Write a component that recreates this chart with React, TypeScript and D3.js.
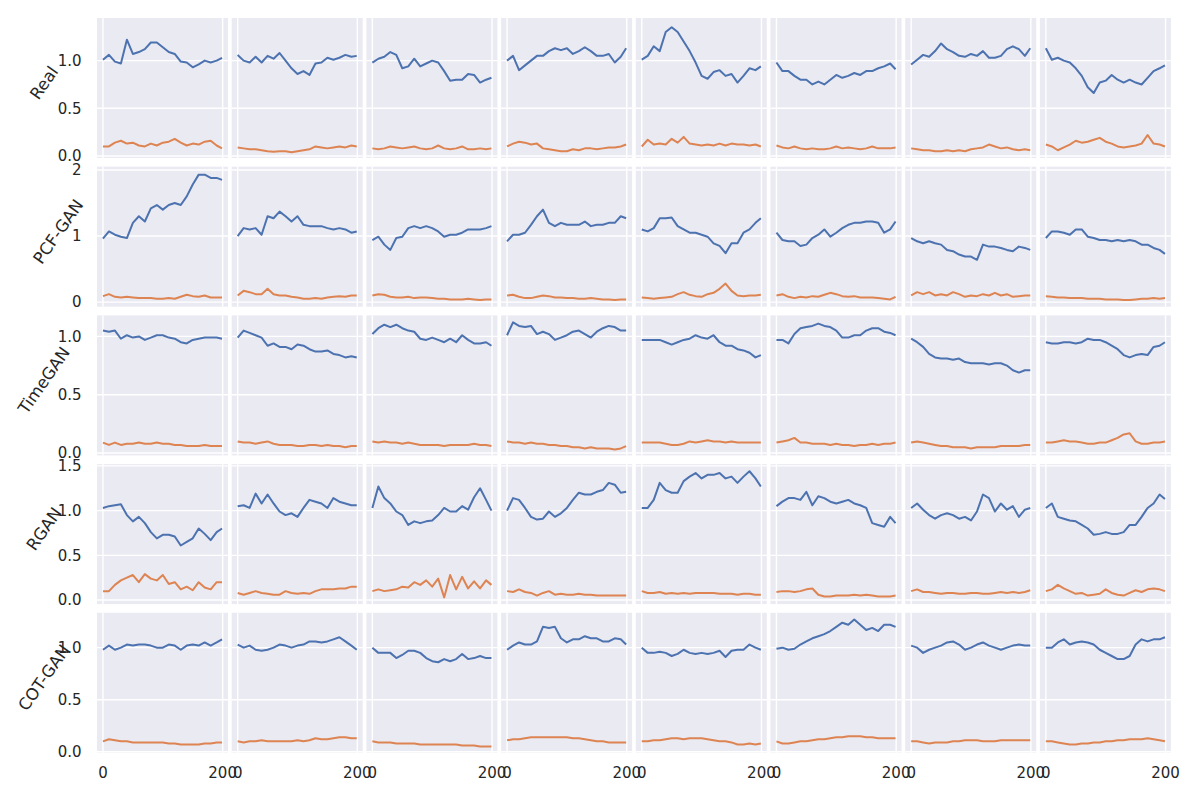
import { useEffect, useRef } from "react";
import * as d3 from "d3";

// sampled time steps shared by every panel
const steps = [0, 10, 20, 30, 40, 50, 60, 70, 80, 90, 100, 110, 120, 130, 140, 150, 160, 170, 180, 190, 199];
const xTicks = [0, 200];

const realBlue = [
  [1.01, 1.06, 0.99, 0.97, 1.22, 1.07, 1.09, 1.12, 1.19, 1.19, 1.14, 1.09, 1.07, 0.99, 0.98, 0.93, 0.96, 1.0, 0.98, 1.0, 1.03],
  [1.06, 1.0, 0.98, 1.04, 0.98, 1.05, 1.02, 1.08, 1.0, 0.92, 0.86, 0.89, 0.85, 0.97, 0.98, 1.03, 1.01, 1.03, 1.06, 1.04, 1.05],
  [0.98, 1.02, 1.04, 1.09, 1.06, 0.92, 0.94, 1.02, 0.94, 0.97, 1.0, 0.98, 0.89, 0.79, 0.8, 0.8, 0.86, 0.85, 0.77, 0.8, 0.82],
  [1.0, 1.05, 0.9, 0.95, 1.0, 1.05, 1.05, 1.1, 1.13, 1.11, 1.13, 1.07, 1.1, 1.14, 1.1, 1.05, 1.05, 1.07, 0.98, 1.04, 1.13],
  [1.01, 1.05, 1.15, 1.1, 1.3, 1.35, 1.3, 1.2, 1.1, 0.98, 0.84, 0.81, 0.88, 0.9, 0.84, 0.86, 0.77, 0.84, 0.92, 0.9, 0.94],
  [0.98, 0.89, 0.89, 0.84, 0.8, 0.8, 0.75, 0.78, 0.75, 0.8, 0.85, 0.82, 0.84, 0.87, 0.85, 0.89, 0.89, 0.92, 0.94, 0.97, 0.91],
  [0.96, 1.01, 1.06, 1.04, 1.1, 1.18, 1.12, 1.09, 1.05, 1.04, 1.07, 1.05, 1.1, 1.03, 1.03, 1.05, 1.12, 1.15, 1.12, 1.05, 1.13],
  [1.13, 1.01, 1.03, 1.0, 0.98, 0.92, 0.84, 0.72, 0.66, 0.77, 0.79, 0.85, 0.8, 0.77, 0.8, 0.77, 0.75, 0.82, 0.89, 0.92, 0.95],
];
const realOrange = [
  [0.1, 0.1, 0.14, 0.16, 0.13, 0.14, 0.11, 0.1, 0.13, 0.11, 0.14, 0.15, 0.18, 0.14, 0.11, 0.13, 0.12, 0.15, 0.16, 0.11, 0.08],
  [0.09, 0.08, 0.07, 0.07, 0.06, 0.05, 0.045, 0.05, 0.05, 0.04, 0.05, 0.06, 0.07, 0.1, 0.09, 0.08, 0.09, 0.1, 0.09, 0.11, 0.1],
  [0.08, 0.07, 0.08, 0.1, 0.09, 0.08, 0.09, 0.1, 0.08, 0.07, 0.08, 0.11, 0.08, 0.07, 0.08, 0.1, 0.07, 0.07, 0.08, 0.07, 0.08],
  [0.1, 0.13, 0.15, 0.14, 0.12, 0.13, 0.08, 0.07, 0.06, 0.05, 0.05, 0.07, 0.06, 0.08, 0.08, 0.07, 0.08, 0.09, 0.09, 0.1, 0.12],
  [0.1, 0.17, 0.12, 0.13, 0.12, 0.18, 0.14, 0.2, 0.13, 0.12, 0.11, 0.12, 0.11, 0.13, 0.11, 0.13, 0.12, 0.12, 0.11, 0.12, 0.1],
  [0.11, 0.09, 0.08, 0.1, 0.08, 0.07, 0.08, 0.07, 0.07, 0.08, 0.1, 0.08, 0.09, 0.08, 0.07, 0.08, 0.1, 0.08, 0.08, 0.08, 0.09],
  [0.08, 0.07, 0.06, 0.06, 0.05, 0.05, 0.06, 0.05, 0.06, 0.05, 0.07, 0.08, 0.09, 0.12, 0.1, 0.08, 0.09, 0.07, 0.06, 0.07, 0.06],
  [0.12, 0.1, 0.06, 0.09, 0.12, 0.16, 0.14, 0.15, 0.17, 0.19, 0.15, 0.13, 0.1, 0.09, 0.1, 0.11, 0.13, 0.22, 0.13, 0.12, 0.1],
];

const pcfBlue = [
  [0.96, 1.07, 1.02, 0.99, 0.97, 1.2, 1.3, 1.22, 1.42, 1.47, 1.4, 1.47, 1.5, 1.47, 1.6, 1.78, 1.93, 1.93, 1.88, 1.88, 1.85],
  [1.0, 1.12, 1.1, 1.12, 1.02, 1.3, 1.27, 1.37, 1.3, 1.22, 1.3, 1.17, 1.15, 1.15, 1.15, 1.12, 1.1, 1.12, 1.1, 1.05, 1.07],
  [0.94, 0.99, 0.87, 0.79, 0.97, 0.99, 1.12, 1.15, 1.12, 1.15, 1.12, 1.07, 0.99, 1.02, 1.02, 1.05, 1.1, 1.1, 1.1, 1.12, 1.15],
  [0.92, 1.02, 1.02, 1.05, 1.17, 1.3, 1.4, 1.2, 1.15, 1.2, 1.17, 1.17, 1.17, 1.22, 1.15, 1.17, 1.17, 1.2, 1.2, 1.3, 1.27],
  [1.1, 1.07, 1.12, 1.27, 1.27, 1.28, 1.15, 1.1, 1.05, 1.05, 1.02, 0.99, 0.89, 0.85, 0.74, 0.89, 0.89, 1.05, 1.1, 1.2, 1.27],
  [1.05, 0.94, 0.92, 0.92, 0.85, 0.87, 0.97, 1.02, 1.1, 0.99, 1.05, 1.12, 1.17, 1.2, 1.2, 1.22, 1.22, 1.2, 1.05, 1.1, 1.22],
  [0.97, 0.92, 0.89, 0.92, 0.89, 0.87, 0.79, 0.77, 0.72, 0.69, 0.69, 0.64, 0.87, 0.84, 0.84, 0.82, 0.79, 0.77, 0.84, 0.82, 0.79],
  [0.97, 1.07, 1.07, 1.05, 1.02, 1.1, 1.1, 0.99, 0.97, 0.94, 0.94, 0.92, 0.94, 0.92, 0.94, 0.92, 0.87, 0.87, 0.82, 0.79, 0.73],
];
const pcfOrange = [
  [0.09, 0.12, 0.08, 0.07, 0.08, 0.07, 0.06, 0.06, 0.06, 0.05, 0.05, 0.06, 0.05, 0.08, 0.11, 0.09, 0.08, 0.1, 0.07, 0.07, 0.07],
  [0.1, 0.17, 0.15, 0.12, 0.12, 0.2, 0.12, 0.1, 0.1, 0.08, 0.07, 0.05, 0.05, 0.06, 0.05, 0.07, 0.08, 0.09, 0.08, 0.1, 0.1],
  [0.1, 0.12, 0.11, 0.08, 0.07, 0.07, 0.08, 0.06, 0.07, 0.07, 0.06, 0.05, 0.05, 0.04, 0.04, 0.04, 0.05, 0.04, 0.03, 0.04, 0.04],
  [0.1, 0.11, 0.08, 0.06, 0.06, 0.08, 0.1, 0.09, 0.07, 0.07, 0.06, 0.06, 0.05, 0.05, 0.06, 0.05, 0.04, 0.04, 0.03, 0.04, 0.04],
  [0.07, 0.06, 0.05, 0.06, 0.07, 0.08, 0.12, 0.15, 0.11, 0.09, 0.08, 0.12, 0.14, 0.2, 0.28, 0.17, 0.1, 0.09, 0.1, 0.1, 0.11],
  [0.1, 0.12, 0.08, 0.06, 0.08, 0.07, 0.09, 0.08, 0.11, 0.14, 0.12, 0.09, 0.08, 0.09, 0.07, 0.07, 0.07, 0.06, 0.05, 0.04, 0.08],
  [0.1, 0.15, 0.12, 0.15, 0.1, 0.12, 0.1, 0.15, 0.12, 0.08, 0.1, 0.09, 0.12, 0.1, 0.14, 0.1, 0.12, 0.08, 0.09, 0.1, 0.1],
  [0.09, 0.08, 0.07, 0.07, 0.06, 0.06, 0.06, 0.05, 0.05, 0.05, 0.04, 0.04, 0.04, 0.03, 0.03, 0.04, 0.05, 0.05, 0.06, 0.05, 0.06],
];

const timeganBlue = [
  [1.05, 1.04, 1.05, 0.98, 1.01, 0.99, 1.0, 0.97, 0.99, 1.01, 1.01, 0.99, 0.98, 0.95, 0.94, 0.97, 0.98, 0.99, 0.99, 0.99, 0.98],
  [0.99, 1.05, 1.03, 1.01, 0.99, 0.92, 0.94, 0.91, 0.91, 0.89, 0.93, 0.92, 0.89, 0.87, 0.87, 0.88, 0.85, 0.84, 0.82, 0.83, 0.82],
  [1.02, 1.07, 1.1, 1.08, 1.1, 1.07, 1.05, 1.04, 0.98, 0.97, 0.99, 0.97, 0.95, 0.98, 0.95, 1.01, 0.97, 0.94, 0.94, 0.95, 0.92],
  [1.01, 1.12, 1.09, 1.08, 1.09, 1.02, 1.04, 1.02, 0.97, 0.99, 1.01, 1.04, 1.05, 1.02, 0.99, 1.04, 1.07, 1.09, 1.08, 1.05, 1.05],
  [0.97, 0.97, 0.97, 0.97, 0.95, 0.93, 0.95, 0.97, 0.98, 1.01, 0.99, 0.98, 1.01, 0.95, 0.92, 0.92, 0.89, 0.88, 0.86, 0.82, 0.84],
  [0.97, 0.97, 0.94, 1.02, 1.07, 1.08, 1.09, 1.11, 1.09, 1.08, 1.05, 0.99, 0.99, 1.01, 1.01, 1.05, 1.07, 1.07, 1.04, 1.03, 1.01],
  [0.98, 0.95, 0.91, 0.85, 0.82, 0.81, 0.81, 0.8, 0.81, 0.78, 0.77, 0.77, 0.77, 0.76, 0.77, 0.77, 0.75, 0.71, 0.69, 0.71, 0.71],
  [0.95, 0.94, 0.94, 0.95, 0.95, 0.94, 0.95, 0.98, 0.97, 0.97, 0.95, 0.92, 0.89, 0.84, 0.82, 0.84, 0.85, 0.84, 0.91, 0.92, 0.95],
];
const timeganOrange = [
  [0.09, 0.07, 0.09, 0.07, 0.08, 0.08, 0.09, 0.08, 0.08, 0.09, 0.08, 0.08, 0.07, 0.07, 0.06, 0.06, 0.06, 0.07, 0.06, 0.06, 0.06],
  [0.1, 0.09, 0.09, 0.08, 0.09, 0.1, 0.08, 0.07, 0.07, 0.07, 0.06, 0.06, 0.07, 0.07, 0.06, 0.07, 0.06, 0.06, 0.05, 0.06, 0.06],
  [0.1, 0.09, 0.1, 0.09, 0.09, 0.08, 0.09, 0.08, 0.07, 0.07, 0.07, 0.07, 0.06, 0.07, 0.07, 0.07, 0.07, 0.08, 0.07, 0.07, 0.06],
  [0.1, 0.09, 0.09, 0.08, 0.09, 0.08, 0.08, 0.07, 0.07, 0.06, 0.06, 0.05, 0.05, 0.04, 0.05, 0.04, 0.04, 0.04, 0.03, 0.04, 0.06],
  [0.09, 0.09, 0.09, 0.09, 0.08, 0.07, 0.07, 0.08, 0.1, 0.09, 0.1, 0.11, 0.1, 0.1, 0.09, 0.1, 0.09, 0.09, 0.09, 0.09, 0.09],
  [0.09, 0.1, 0.11, 0.13, 0.09, 0.09, 0.08, 0.08, 0.08, 0.07, 0.08, 0.07, 0.07, 0.06, 0.07, 0.07, 0.08, 0.07, 0.08, 0.08, 0.09],
  [0.09, 0.1, 0.09, 0.08, 0.07, 0.06, 0.06, 0.05, 0.05, 0.05, 0.04, 0.05, 0.05, 0.05, 0.05, 0.06, 0.06, 0.06, 0.06, 0.07, 0.07],
  [0.09, 0.09, 0.1, 0.11, 0.1, 0.1, 0.09, 0.08, 0.08, 0.09, 0.09, 0.11, 0.13, 0.16, 0.17, 0.1, 0.08, 0.08, 0.09, 0.09, 0.1],
];

const rganBlue = [
  [1.03, 1.05, 1.06, 1.07, 0.95, 0.88, 0.93, 0.86, 0.76, 0.69, 0.73, 0.73, 0.71, 0.61, 0.65, 0.69, 0.8, 0.74, 0.67, 0.76, 0.8],
  [1.05, 1.06, 1.03, 1.19, 1.08, 1.18, 1.08, 0.99, 0.95, 0.97, 0.93, 1.03, 1.12, 1.1, 1.08, 1.03, 1.14, 1.1, 1.08, 1.06, 1.06],
  [1.03, 1.27, 1.14, 1.08, 0.99, 0.95, 0.84, 0.88, 0.86, 0.88, 0.89, 0.95, 1.03, 0.99, 0.99, 1.05, 1.01, 1.15, 1.25, 1.12, 1.0],
  [1.0, 1.14, 1.12, 1.03, 0.93, 0.9, 0.91, 0.99, 0.93, 0.97, 1.03, 1.12, 1.2, 1.18, 1.18, 1.21, 1.23, 1.31, 1.29, 1.2, 1.21],
  [1.03, 1.03, 1.12, 1.31, 1.23, 1.2, 1.2, 1.33, 1.38, 1.42, 1.36, 1.4, 1.4, 1.42, 1.36, 1.38, 1.31, 1.38, 1.44, 1.36, 1.27],
  [1.05, 1.1, 1.14, 1.14, 1.12, 1.21, 1.06, 1.16, 1.14, 1.1, 1.08, 1.1, 1.12, 1.08, 1.06, 1.03, 0.86, 0.84, 0.82, 0.93, 0.86],
  [1.03, 1.08, 1.01, 0.95, 0.91, 0.95, 0.97, 0.95, 0.91, 0.93, 0.89, 0.99, 1.18, 1.14, 0.99, 1.08, 1.01, 1.05, 0.93, 1.01, 1.03],
  [1.03, 1.08, 0.93, 0.91, 0.89, 0.88, 0.84, 0.8, 0.73, 0.74, 0.76, 0.74, 0.74, 0.76, 0.84, 0.84, 0.93, 1.03, 1.08, 1.18, 1.13],
];
const rganOrange = [
  [0.1, 0.1, 0.17, 0.22, 0.25, 0.28, 0.2, 0.29, 0.24, 0.22, 0.28, 0.18, 0.2, 0.12, 0.15, 0.11, 0.2, 0.14, 0.12, 0.2, 0.2],
  [0.08, 0.06, 0.08, 0.1, 0.08, 0.07, 0.06, 0.06, 0.1, 0.08, 0.07, 0.08, 0.07, 0.1, 0.12, 0.12, 0.12, 0.13, 0.13, 0.15, 0.15],
  [0.1, 0.12, 0.1, 0.11, 0.12, 0.15, 0.14, 0.2, 0.17, 0.22, 0.15, 0.24, 0.03, 0.28, 0.12, 0.26, 0.13, 0.21, 0.13, 0.22, 0.17],
  [0.1, 0.09, 0.12, 0.09, 0.08, 0.05, 0.08, 0.1, 0.06, 0.07, 0.06, 0.06, 0.07, 0.06, 0.06, 0.05, 0.05, 0.05, 0.05, 0.05, 0.05],
  [0.1, 0.08, 0.08, 0.09, 0.07, 0.08, 0.07, 0.08, 0.07, 0.08, 0.08, 0.08, 0.08, 0.07, 0.07, 0.07, 0.06, 0.07, 0.07, 0.06, 0.06],
  [0.09, 0.1, 0.1, 0.09, 0.1, 0.12, 0.13, 0.06, 0.04, 0.04, 0.05, 0.05, 0.05, 0.06, 0.05, 0.06, 0.05, 0.04, 0.04, 0.04, 0.05],
  [0.1, 0.12, 0.09, 0.09, 0.08, 0.07, 0.08, 0.08, 0.07, 0.07, 0.08, 0.08, 0.07, 0.07, 0.08, 0.09, 0.08, 0.09, 0.08, 0.09, 0.11],
  [0.1, 0.12, 0.17, 0.13, 0.1, 0.07, 0.08, 0.05, 0.06, 0.07, 0.12, 0.08, 0.06, 0.05, 0.08, 0.11, 0.09, 0.12, 0.13, 0.12, 0.1],
];

const cotBlue = [
  [0.98, 1.02, 0.98, 1.0, 1.03, 1.02, 1.03, 1.03, 1.02, 1.0, 1.0, 1.03, 1.02, 0.98, 1.02, 1.03, 1.02, 1.05, 1.02, 1.05, 1.08],
  [1.03, 1.0, 1.02, 0.98, 0.97, 0.98, 1.0, 1.03, 1.02, 1.0, 1.02, 1.03, 1.06, 1.06, 1.05, 1.06, 1.08, 1.1, 1.06, 1.02, 0.98],
  [1.0, 0.95, 0.95, 0.95, 0.9, 0.93, 0.97, 0.97, 0.95, 0.9, 0.87, 0.86, 0.89, 0.87, 0.89, 0.94, 0.89, 0.9, 0.92, 0.9, 0.9],
  [0.98, 1.02, 1.05, 1.03, 1.03, 1.06, 1.2, 1.19, 1.2, 1.09, 1.05, 1.08, 1.08, 1.11, 1.09, 1.09, 1.06, 1.06, 1.09, 1.08, 1.03],
  [1.0, 0.95, 0.95, 0.96, 0.95, 0.92, 0.94, 0.98, 0.95, 0.94, 0.95, 0.94, 0.95, 0.97, 0.91, 0.97, 0.98, 0.98, 1.03, 1.0, 0.98],
  [0.99, 1.0, 0.98, 0.99, 1.03, 1.06, 1.09, 1.11, 1.13, 1.16, 1.2, 1.24, 1.22, 1.27, 1.22, 1.17, 1.19, 1.16, 1.22, 1.22, 1.2],
  [1.02, 1.0, 0.95, 0.98, 1.0, 1.02, 1.05, 1.06, 1.03, 0.98, 1.0, 1.03, 1.05, 1.02, 1.0, 0.98, 1.0, 1.02, 1.03, 1.02, 1.02],
  [1.0, 1.0, 1.05, 1.08, 1.03, 1.05, 1.06, 1.05, 1.03, 0.98, 0.95, 0.92, 0.89, 0.89, 0.92, 1.03, 1.08, 1.06, 1.08, 1.08, 1.1],
];
const cotOrange = [
  [0.1, 0.12, 0.11, 0.1, 0.1, 0.09, 0.09, 0.09, 0.09, 0.09, 0.09, 0.08, 0.08, 0.07, 0.07, 0.07, 0.07, 0.08, 0.08, 0.09, 0.09],
  [0.1, 0.09, 0.1, 0.1, 0.11, 0.1, 0.1, 0.1, 0.1, 0.1, 0.11, 0.1, 0.11, 0.13, 0.12, 0.12, 0.13, 0.14, 0.14, 0.13, 0.13],
  [0.1, 0.09, 0.09, 0.09, 0.08, 0.08, 0.08, 0.08, 0.07, 0.07, 0.07, 0.07, 0.07, 0.07, 0.07, 0.06, 0.06, 0.06, 0.05, 0.05, 0.05],
  [0.11, 0.12, 0.12, 0.13, 0.14, 0.14, 0.14, 0.14, 0.14, 0.14, 0.14, 0.13, 0.13, 0.12, 0.11, 0.1, 0.1, 0.09, 0.09, 0.09, 0.09],
  [0.1, 0.1, 0.11, 0.11, 0.12, 0.13, 0.13, 0.12, 0.13, 0.13, 0.13, 0.12, 0.11, 0.1, 0.1, 0.09, 0.07, 0.07, 0.08, 0.07, 0.08],
  [0.1, 0.08, 0.08, 0.09, 0.1, 0.1, 0.11, 0.12, 0.12, 0.13, 0.14, 0.14, 0.15, 0.15, 0.15, 0.14, 0.14, 0.13, 0.13, 0.13, 0.13],
  [0.1, 0.1, 0.09, 0.08, 0.09, 0.09, 0.09, 0.1, 0.1, 0.11, 0.11, 0.11, 0.1, 0.1, 0.1, 0.11, 0.11, 0.11, 0.11, 0.11, 0.11],
  [0.1, 0.1, 0.09, 0.08, 0.07, 0.07, 0.08, 0.08, 0.09, 0.09, 0.1, 0.1, 0.11, 0.11, 0.12, 0.12, 0.12, 0.13, 0.12, 0.11, 0.1],
];

type Row = {
  label: string;
  blue: number[][];
  orange: number[][];
  domain: [number, number];
  ticks: number[];
  fmt: string;
};

const rows: Row[] = [
  { label: "Real", blue: realBlue, orange: realOrange, domain: [-0.021, 1.447], ticks: [0, 0.5, 1], fmt: ".1f" },
  { label: "PCF-GAN", blue: pcfBlue, orange: pcfOrange, domain: [-0.07, 2.05], ticks: [0, 1, 2], fmt: "d" },
  { label: "TimeGAN", blue: timeganBlue, orange: timeganOrange, domain: [-0.02, 1.18], ticks: [0, 0.5, 1], fmt: ".1f" },
  { label: "RGAN", blue: rganBlue, orange: rganOrange, domain: [-0.045, 1.52], ticks: [0, 0.5, 1, 1.5], fmt: ".1f" },
  { label: "COT-GAN", blue: cotBlue, orange: cotOrange, domain: [-0.01, 1.335], ticks: [0, 0.5, 1], fmt: ".1f" },
];

const colors = ["#4C72B0", "#DD8452"];
const font = "DejaVu Sans, sans-serif";

const App = () => {
  const ref = useRef<SVGSVGElement | null>(null);

  useEffect(() => {
    document.body.style.margin = "0";
    const width = 1200;
    const height = 800;
    const left = 97;
    const top = 18;
    const colStep = 134.7;
    const rowStep = 148.7;
    const panelW = 131;
    const panelH = 140;

    const svg = d3.select(ref.current);
    svg.selectAll("*").remove();
    svg.attr("width", width).attr("height", height);
    svg.append("rect").attr("width", width).attr("height", height).attr("fill", "white");

    rows.forEach((row, r) => {
      const y0 = top + r * rowStep;
      const y = d3.scaleLinear().domain(row.domain).range([y0 + panelH, y0]);
      const fmt = d3.format(row.fmt);

      row.blue.forEach((_, c) => {
        const x0 = left + c * colStep;
        const x = d3.scaleLinear().domain([-9.95, 208.95]).range([x0, x0 + panelW]);
        const g = svg.append("g");

        g.append("rect")
          .attr("x", x0)
          .attr("y", y0)
          .attr("width", panelW)
          .attr("height", panelH)
          .attr("fill", "#EAEAF2");

        g.selectAll(".hgrid")
          .data(row.ticks)
          .join("line")
          .attr("x1", x0)
          .attr("x2", x0 + panelW)
          .attr("y1", (d) => y(d))
          .attr("y2", (d) => y(d))
          .attr("stroke", "white")
          .attr("stroke-width", 1.4);

        g.selectAll(".vgrid")
          .data(xTicks)
          .join("line")
          .attr("x1", (d) => x(d))
          .attr("x2", (d) => x(d))
          .attr("y1", y0)
          .attr("y2", y0 + panelH)
          .attr("stroke", "white")
          .attr("stroke-width", 1.4);

        [row.blue[c], row.orange[c]].forEach((vals, k) => {
          const line = d3
            .line<number>()
            .x((_, i) => x(steps[i]))
            .y((d) => y(d));
          g.append("path")
            .datum(vals)
            .attr("fill", "none")
            .attr("stroke", colors[k])
            .attr("stroke-width", 2)
            .attr("stroke-linejoin", "round")
            .attr("d", line);
        });

        if (r === rows.length - 1) {
          g.selectAll(".xtick")
            .data(xTicks)
            .join("text")
            .attr("x", (d) => x(d))
            .attr("y", y0 + panelH + 25)
            .attr("text-anchor", "middle")
            .attr("font-family", font)
            .attr("font-size", 15)
            .attr("fill", "#262626")
            .text((d) => String(d));
        }
      });

      // y tick labels on the first column only
      const tickLabels = svg
        .append("g")
        .selectAll("text")
        .data(row.ticks)
        .join("text")
        .attr("x", left - 15.5)
        .attr("y", (d) => y(d))
        .attr("dy", "0.36em")
        .attr("text-anchor", "end")
        .attr("font-family", font)
        .attr("font-size", 15)
        .attr("fill", "#262626")
        .text((d) => fmt(d));

      let minX = left - 15.5;
      tickLabels.each(function () {
        const b = (this as SVGTextElement).getBBox();
        minX = Math.min(minX, b.x);
      });

      const anchorX = minX - 5.6;
      const cx = anchorX - 7.9;
      const cy = y0 + panelH / 2 - 5;
      svg
        .append("text")
        .attr("transform", `translate(${cx},${cy}) rotate(-55)`)
        .attr("text-anchor", "middle")
        .attr("dominant-baseline", "central")
        .attr("font-family", font)
        .attr("font-size", 16.5)
        .attr("fill", "#262626")
        .text(row.label);
    });
  }, []);

  return <svg ref={ref} width={1200} height={800} style={{ display: "block" }}></svg>;
};

export default App;
